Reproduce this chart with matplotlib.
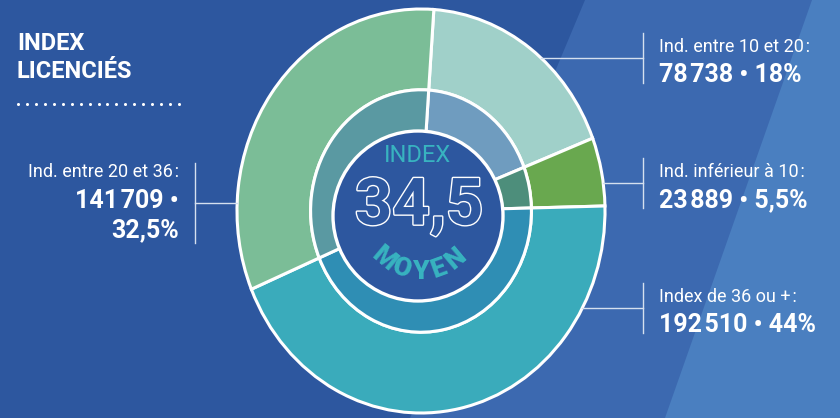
import numpy as np
import matplotlib
matplotlib.use("Agg")
import matplotlib.pyplot as plt
from matplotlib.patches import Polygon, Ellipse
import matplotlib.patheffects as pe

plt.rcParams['font.family'] = ['Roboto', 'DejaVu Sans']

# Data ---------------------------------------------------------------
categories = ["Ind. entre 10 et 20\u200a:", "Ind. inférieur à 10\u200a:",
              "Index de 36 ou +\u200a:", "Ind. entre 20 et 36\u200a:"]
counts = [78738, 23889, 192510, 141709]
pct_labels = ["18%", "5,5%", "44%", "32,5%"]
index_moyen = "34,5"
title_lines = ["INDEX", "LICENCIÉS"]

outer_colors = ['#a0d0c9', '#69a84f', '#3aabbb', '#7bbd97']
inner_colors = ['#6f9cbf', '#4d8e7b', '#2f8eb4', '#5a99a2']

count_labels = [f"{c:,}".replace(",", "\u200a") for c in counts]

W, H = 840, 418
dark = '#2d579f'
line_col = '#d5e0ef'

fig = plt.figure(figsize=(8.4, 4.18), dpi=100)
fig.patch.set_facecolor(dark)

# background axes in pixel coordinates
bg = fig.add_axes([0, 0, 1, 1])
bg.set_xlim(0, W)
bg.set_ylim(H, 0)
bg.axis('off')
bg.add_patch(Polygon([(585, 0), (W, 0), (W, H), (410, H)], closed=True,
                     facecolor='#3c69b0', edgecolor='none'))
bg.add_patch(Polygon([(812, 0), (W, 0), (W, H), (665, H)], closed=True,
                     facecolor='#4a7fc0', edgecolor='none'))

# donut (slightly elliptical like the source)
cx, cy, rx, ry = 421, 211, 184, 202
pax = fig.add_axes([(cx - rx) / W, (H - (cy + ry)) / H, 2 * rx / W, 2 * ry / H])
pax.set_zorder(2)
w1, _ = pax.pie(counts, radius=1.0, colors=outer_colors, startangle=86,
                counterclock=False,
                wedgeprops=dict(width=0.4, edgecolor='white', linewidth=2.2))
w2, _ = pax.pie(counts, radius=0.6, colors=inner_colors, startangle=86,
                counterclock=False,
                wedgeprops=dict(width=0.22, edgecolor='white', linewidth=2.2))
for w in list(w1) + list(w2):
    w.set_clip_on(False)
pax.set_aspect('auto')
pax.set_xlim(-1, 1)
pax.set_ylim(-1, 1)
pax.axis('off')

# overlay axes for centre and labels
ov = fig.add_axes([0, 0, 1, 1])
ov.set_zorder(3)
ov.set_xlim(0, W)
ov.set_ylim(H, 0)
ov.axis('off')
ov.patch.set_alpha(0)

ccx, ccy = 418, 216
ov.add_patch(Ellipse((ccx, ccy), 170, 170, facecolor=dark, edgecolor='white', linewidth=2.4))
ov.text(ccx, 155, "INDEX", color='#38b3c0', fontsize=17, ha='center', va='center')
ov.text(ccx + 1, 207, index_moyen, color=dark, fontsize=47, ha='center', va='center',
        fontweight='bold',
        path_effects=[pe.Stroke(linewidth=2.0, foreground='white'), pe.Normal()])
word = "MOYEN"
angs = np.linspace(-40, 40, len(word))
for ch, a in zip(word, angs):
    t = np.radians(a)
    ov.text(420 + 56 * np.sin(t), 216 + 56 * np.cos(t), ch, color='#38b3c0',
            fontsize=19, fontweight='heavy', ha='center', va='center', rotation=a)

# title
ov.text(17, 44, title_lines[0], color='white', fontsize=17, fontweight='bold', va='center')
ov.text(17, 72, title_lines[1], color='white', fontsize=17, fontweight='bold', va='center')
ov.plot(np.linspace(18, 179, 19), [104] * 19, 'o', color='white', markersize=2.2,
        markeredgewidth=0)

# right labels: Ind. 10-20, Ind. <10, Index 36+
right_idx = [0, 1, 2]
right_y = [58, 183, 308]
for i, y in zip(right_idx, right_y):
    xe = cx + rx * np.sqrt(1 - ((y - cy) / ry) ** 2)
    ov.plot([xe, 643], [y, y], color=line_col, lw=1)
    ov.plot([643, 643], [y - 25, y + 25], color=line_col, lw=1)
    ov.text(659, y - 11, categories[i], color='white', fontsize=13, fontweight='normal',
            va='center', ha='left')
    ov.text(659, y + 17, f"{count_labels[i]} • {pct_labels[i]}", color='white',
            fontsize=18, fontweight='bold', va='center', ha='left')

# left label: Ind. 20-36
y = 203
xe = cx - rx * np.sqrt(1 - ((y - cy) / ry) ** 2)
ov.plot([195, xe], [y, y], color=line_col, lw=1)
ov.plot([195, 195], [163, 243], color=line_col, lw=1)
ov.text(179, 172, categories[3], color='white', fontsize=13, fontweight='normal',
        va='center', ha='right')
ov.text(179, 201, f"{count_labels[3]} •", color='white', fontsize=18, fontweight='bold',
        va='center', ha='right')
ov.text(179, 230, pct_labels[3], color='white', fontsize=18, fontweight='bold',
        va='center', ha='right')

fig.savefig("out.png", dpi=100, facecolor=fig.get_facecolor())
